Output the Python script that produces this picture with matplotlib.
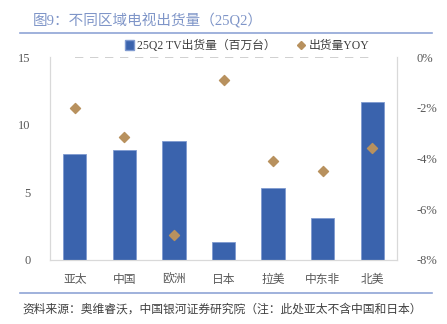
import matplotlib.pyplot as plt
from matplotlib.lines import Line2D
from matplotlib.patches import Patch

plt.rcParams['font.family'] = ['Liberation Serif', 'Noto Sans CJK SC', 'DejaVu Sans']

regions = ['亚太', '中国', '欧洲', '日本', '拉美', '中东非', '北美']
shipments = [7.8, 8.1, 8.8, 1.3, 5.3, 3.1, 11.7]   # 百万台
yoy = [-2.0, -3.15, -7.0, -0.9, -4.1, -4.5, -3.6]   # %
left_ticks = [0, 5, 10, 15]
right_ticks = [0, -2, -4, -6, -8]

bar_color = '#3A63AD'
dot_color = '#B8915E'
tick_color = '#595959'

fig = plt.figure(figsize=(4.47, 3.24), dpi=100)
ax = fig.add_axes([50 / 447, 1 - 260 / 324, 347 / 447, 203 / 324])
ax2 = ax.twinx()

x = list(range(len(regions)))
ax.bar(x, shipments, width=0.47, color=bar_color, edgecolor='#7F9AD0', linewidth=0.6, zorder=2)
ax.set_xlim(-0.5, len(regions) - 0.5)
ax.set_ylim(0, 15)
ax.set_yticks(left_ticks)
ax.set_yticklabels([str(t) for t in left_ticks], fontsize=9, color=tick_color)
ax.set_xticks(x)
ax.set_xticklabels(regions, fontsize=8.5, color=tick_color,
                   family=['Noto Sans CJK SC'], fontweight='light')
ax.tick_params(length=0, pad=9)
ax.tick_params(axis='y', pad=14)

# 同比散点 + 0% 虚线
ax2.plot([x[0], x[-1]], [0, 0], color='#C8C8C8', lw=1.2, ls=(0, (5, 4)), zorder=1)
ax2.scatter(x, yoy, marker='D', s=26, color=dot_color, zorder=3)
ax2.set_ylim(-8, 0)
ax2.set_yticks(right_ticks)
ax2.set_yticklabels([f'{t}%' for t in right_ticks], fontsize=9, color=tick_color)
ax2.tick_params(length=0, pad=14)

for a in (ax, ax2):
    a.spines['top'].set_visible(False)
    a.spines['left'].set_color('#D9D9D9')
    a.spines['right'].set_color('#D9D9D9')
    a.spines['bottom'].set_color('#D9D9D9')

handles = [Patch(facecolor=bar_color, edgecolor='#7F9AD0'),
           Line2D([], [], marker='D', ls='none', color=dot_color, markersize=4)]
fig.legend(handles, ['25Q2 TV出货量（百万台）', '出货量YOY'],
           loc='center', bbox_to_anchor=(247 / 447, 1 - 46 / 324), ncol=2,
           frameon=False, fontsize=8.5, handlelength=0.75, handleheight=0.9,
           handletextpad=0.25, columnspacing=1.8, labelcolor='#404040',
           prop={'weight': 'light', 'size': 8.5})

fig.text(33 / 447, 1 - 21 / 324, '图9：不同区域电视出货量（25Q2）', fontsize=10.5,
         color='#7F95C8', va='center', ha='left', fontweight='light')
fig.add_artist(Line2D([20 / 447, 432 / 447], [1 - 33 / 324, 1 - 33 / 324],
                      color='#8FA4D6', lw=1.2))
fig.add_artist(Line2D([20 / 447, 432 / 447], [1 - 293 / 324, 1 - 293 / 324],
                      color='#8FA4D6', lw=1.2))
fig.text(22 / 447, 1 - 309 / 324,
         '资料来源：奥维睿沃，中国银河证券研究院（注：此处亚太不含中国和日本）',
         fontsize=8.5, color='#404040', style='italic', va='center', ha='left',
         family=['Noto Sans CJK SC'], fontweight='light')

fig.savefig('out.png', dpi=100)
